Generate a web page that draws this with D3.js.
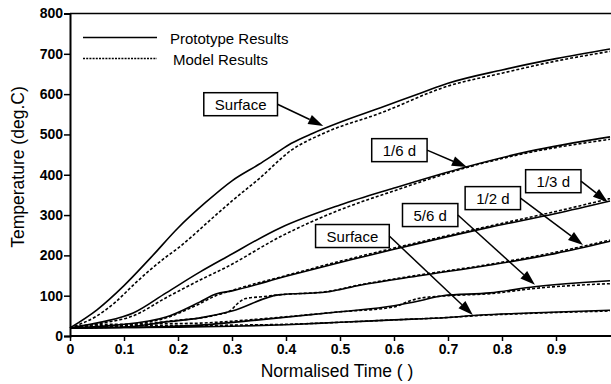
<!DOCTYPE html>
<html>
<head>
<meta charset="utf-8">
<script src="https://cdn.jsdelivr.net/npm/d3@7"></script>
<style>
  body { margin: 0; background: #fff; }
  svg { display: block; font-family: "Liberation Sans", Arial, Helvetica, sans-serif; }
</style>
</head>
<body>
<svg id="chart" width="611" height="384"></svg>
<script>
// ---- data: [normalised time, temperature] ----
var surfaceTopProto = [[0,20],[0.05,65],[0.1,125],[0.15,195],[0.2,268],[0.25,330],[0.3,385],[0.35,426],[0.38,452],[0.41,478],[0.45,503],[0.5,530],[0.575,566],[0.65,603],[0.7,627],[0.8,660],[0.9,688],[1,712]];
var surfaceTopModel = [[0,20],[0.05,50],[0.085,85],[0.12,130],[0.172,190],[0.2,218],[0.27,300],[0.3,335],[0.35,390],[0.41,461],[0.47,503],[0.575,553],[0.7,620],[0.8,652],[0.9,682],[1,706]];
var sixthProto = [[0,20],[0.06,35],[0.117,57],[0.178,107],[0.241,159],[0.29,196],[0.389,268],[0.5,325],[0.6,367],[0.735,420],[0.85,458],[1,494]];
var sixthModel = [[0,20],[0.06,32],[0.117,50],[0.178,95],[0.241,139],[0.29,171],[0.389,246],[0.5,313],[0.6,360],[0.735,418],[0.85,455],[1,488]];
var thirdProto = [[0,20],[0.085,27],[0.178,47],[0.24,84],[0.27,104],[0.3,112],[0.4,148],[0.52,189],[0.6,215],[0.778,270],[0.9,304],[1,335]];
var thirdModel = [[0,20],[0.085,25],[0.178,45],[0.24,80],[0.27,100],[0.3,113],[0.4,150],[0.52,192],[0.6,218],[0.778,273],[0.9,309],[1,341]];
var halfProto = [[0,20],[0.1,22],[0.178,35],[0.241,45],[0.3,62],[0.386,102],[0.475,109],[0.537,126],[0.65,150],[0.778,176],[0.9,205],[1,235]];
var halfModel = [[0,20],[0.1,23],[0.178,36],[0.27,52],[0.296,62],[0.31,80],[0.325,93],[0.36,98],[0.386,102],[0.475,110],[0.537,127],[0.65,152],[0.778,178],[0.9,208],[1,238]];
var fiveSixthProto = [[0,20],[0.1,21],[0.241,27],[0.35,40],[0.5,60],[0.6,75],[0.65,88],[0.69,100],[0.778,107],[0.86,122],[1,137]];
var fiveSixthModel = [[0,20],[0.04,28],[0.15,30],[0.241,32],[0.35,42],[0.5,60],[0.6,72],[0.625,85],[0.645,93],[0.7,100],[0.778,105],[0.86,118],[1,130]];
var surfaceLowProto = [[0,20],[0.1,21],[0.2,22],[0.3,24],[0.4,28],[0.5,34],[0.6,40],[0.7,46],[0.76,52],[0.85,57],[1,64]];
var surfaceLowModel = [[0,20],[0.05,25],[0.2,26],[0.3,27],[0.4,29],[0.5,34],[0.6,40],[0.7,46],[0.76,51],[0.85,56],[1,62]];

var protoSeries = [surfaceTopProto, sixthProto, thirdProto, halfProto, fiveSixthProto, surfaceLowProto];
var modelSeries = [surfaceTopModel, sixthModel, thirdModel, halfModel, fiveSixthModel, surfaceLowModel];

var xTicks = [0, 0.1, 0.2, 0.3, 0.4, 0.5, 0.6, 0.7, 0.8, 0.9];
var yTicks = [0, 100, 200, 300, 400, 500, 600, 700, 800];
var legendNames = ["Prototype Results", "Model Results"];

// labels: text, box centre [t, T], arrow tip [t, T]
var labelNames = ["Surface", "1/6 d", "1/3 d", "1/2 d", "5/6 d", "Surface"];
var labelBoxes = [[0.316, 575], [0.61, 461], [0.895, 384], [0.783, 342], [0.667, 300], [0.523, 248]];
var labelTips = [[0.469, 521], [0.735, 419], [0.996, 332], [0.95, 226], [0.861, 127], [0.746, 52]];

var svg = d3.select("#chart");

var scX = d3.scaleLinear().domain([0, 1]).range([70, 610]);
var scY = d3.scaleLinear().domain([0, 800]).range([336, 13.5]);

// frame top line
svg.append("line")
  .attr("x1", 70).attr("x2", 611)
  .attr("y1", scY(800)).attr("y2", scY(800))
  .attr("stroke", "#000").attr("stroke-width", 1.5);

var gx = svg.append("g").attr("transform", `translate(0, ${scY(0)})`)
  .call(d3.axisBottom(scX).tickValues(xTicks).tickSize(5).tickPadding(3).tickFormat(d => d === 0 ? "0" : d3.format(".1f")(d)));
var gy = svg.append("g").attr("transform", `translate(${scX(0)}, 0)`)
  .call(d3.axisLeft(scY).tickValues(yTicks).tickSize(6).tickPadding(1));

gx.select(".domain").attr("d", `M70,0H611`);
[gx, gy].forEach(g => {
  g.select(".domain").attr("stroke-width", 2);
  g.selectAll(".tick line").attr("stroke-width", 1.5);
  g.selectAll("text").attr("font-size", 14).attr("font-weight", "bold").attr("fill", "#000")
    .attr("font-family", "'Liberation Sans', Arial, sans-serif");
});

// axis titles
svg.append("text")
  .attr("transform", "translate(24, 167) rotate(-90)")
  .attr("text-anchor", "middle").attr("font-size", 17.5)
  .text("Temperature (deg.C)");
svg.append("text")
  .attr("x", 337).attr("y", 377)
  .attr("text-anchor", "middle").attr("font-size", 17.5)
  .text("Normalised Time ( )");

var line = d3.line().x(d => scX(d[0])).y(d => scY(d[1])).curve(d3.curveMonotoneX);

svg.append("g").selectAll("path").data(protoSeries).enter().append("path")
  .attr("d", line).attr("fill", "none").attr("stroke", "#000").attr("stroke-width", 1.6);
svg.append("g").selectAll("path").data(modelSeries).enter().append("path")
  .attr("d", line).attr("fill", "none").attr("stroke", "#000").attr("stroke-width", 1.6)
  .attr("stroke-dasharray", "3,2");

// legend
var leg = svg.append("g");
legendNames.forEach((name, i) => {
  var yy = 37.5 + i * 21;
  leg.append("line").attr("x1", 83).attr("x2", 157).attr("y1", yy).attr("y2", yy)
    .attr("stroke", "#000").attr("stroke-width", 1.5)
    .attr("stroke-dasharray", i === 1 ? "2,1.2" : null);
  leg.append("text").attr("x", 170 + i * 3).attr("y", yy + 6).attr("font-size", 15).text(name);
});

// labelled arrows
var ann = svg.append("g");
labelNames.forEach((name, i) => {
  var cx = scX(labelBoxes[i][0]), cy = scY(labelBoxes[i][1]);
  var t = ann.append("text").attr("x", cx).attr("y", cy + 5.5)
    .attr("text-anchor", "middle").attr("font-size", 15).text(name);
  var w = t.node().getComputedTextLength() + 22;
  var h = 23;
  ann.insert("rect", "text").attr("x", cx - w / 2).attr("y", cy - h / 2)
    .attr("width", w).attr("height", h)
    .attr("fill", "#fff").attr("stroke", "#000").attr("stroke-width", 1.5);

  var x0 = cx + w / 2, y0 = cy;
  var x1 = scX(labelTips[i][0]), y1 = scY(labelTips[i][1]);
  var ang = Math.atan2(y1 - y0, x1 - x0);
  var L = 15, W = 5;
  var bx = x1 - L * Math.cos(ang), by = y1 - L * Math.sin(ang);
  ann.append("line").attr("x1", x0).attr("y1", y0).attr("x2", bx).attr("y2", by)
    .attr("stroke", "#000").attr("stroke-width", 1.5);
  var pts = [[x1, y1],
    [bx + W * Math.sin(ang), by - W * Math.cos(ang)],
    [bx - W * Math.sin(ang), by + W * Math.cos(ang)]];
  ann.append("polygon").attr("points", pts.map(p => p.join(",")).join(" ")).attr("fill", "#000");
});
</script>
</body>
</html>
